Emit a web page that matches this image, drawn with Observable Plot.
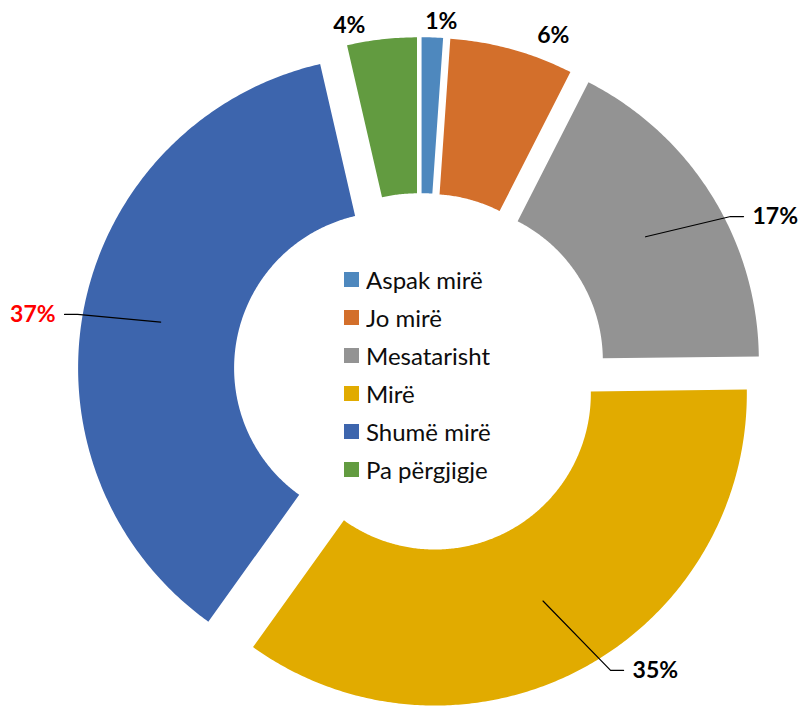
<!DOCTYPE html>
<html>
<head>
<meta charset="utf-8">
<script src="https://cdn.jsdelivr.net/npm/d3@7"></script>
<script src="https://cdn.jsdelivr.net/npm/@observablehq/plot@0.6"></script>
<style>
  body { margin: 0; background: #fff; }
  #wrap { position: relative; width: 802px; height: 706px; overflow: hidden; }
  #wrap svg { display: block; }
  .lg-swatches { position: absolute; left: 344px; top: 260px; margin: 0 !important;
    font-family: Lato, "Open Sans", sans-serif; font-size: 24px; color: #0d0d0d; }
  .lg-swatch { height: 38px; padding-bottom: 0 !important; }
  .lg-swatch > svg { margin-right: 7px !important; }
</style>
</head>
<body>
<div id="wrap"></div>
<script>
// ---- data ----
const categories = ["Aspak mirë", "Jo mirë", "Mesatarisht", "Mirë", "Shumë mirë", "Pa përgjigje"];
const values = [1.1, 6.4, 17.3, 35.1, 36.5, 3.6];
const colors = ["#4E88BE", "#D36F2B", "#939393", "#E1AB00", "#3D65AD", "#629B40"];
const labelColors = ["#000000", "#000000", "#000000", "#000000", "#FF0000", "#000000"];
// label layout (polar: degrees clockwise from top, radius in outer-radius units)
const labelAngles = [3.4, 21.5, 64.2, 145.7, 279.3, -11.6];
const labelRadii = [1.128, 1.162, 1.150, 1.155, 1.156, 1.136];
const hasLeader = [false, false, true, true, true, false];

// ---- layout ----
const W = 802, H = 706, CX = 420, CY = 372.2, R = 312;
const HOLE = 0.5, EXPLODE_X = 31 / R, EXPLODE_Y = 23.5 / R;

const total = d3.sum(values);
let cum = 0;
const slices = categories.map((c, i) => {
  const a0 = cum / total * 2 * Math.PI; cum += values[i];
  const a1 = cum / total * 2 * Math.PI;
  const am = (a0 + a1) / 2;
  return {cat: c, i, a0, a1, am, ox: EXPLODE_X * Math.sin(am), oy: EXPLODE_Y * Math.cos(am)};
});

const slicePts = [];
for (const s of slices) {
  const n = Math.max(2, Math.ceil((s.a1 - s.a0) / (Math.PI / 360)));
  for (let k = 0; k <= n; k++) {
    const a = s.a0 + (s.a1 - s.a0) * k / n;
    slicePts.push({cat: s.cat, x: s.ox + Math.sin(a), y: s.oy + Math.cos(a)});
  }
  for (let k = n; k >= 0; k--) {
    const a = s.a0 + (s.a1 - s.a0) * k / n;
    slicePts.push({cat: s.cat, x: s.ox + HOLE * Math.sin(a), y: s.oy + HOLE * Math.cos(a)});
  }
}

const labels = slices.map((s, i) => {
  const la = labelAngles[i] * Math.PI / 180, lr = labelRadii[i];
  const x = lr * Math.sin(la), y = lr * Math.cos(la);
  const anchor = hasLeader[i] ? (x > 0 ? "start" : "end") : "middle";
  return {text: Math.round(values[i]) + "%", x, y, anchor, color: labelColors[i], s, leader: hasLeader[i]};
});

const leaderPts = [];
for (const l of labels.filter(d => d.leader)) {
  const sgn = l.x > 0 ? 1 : -1;
  const rm = (1 + HOLE) / 2;
  leaderPts.push({k: l.text, x: l.s.ox + rm * Math.sin(l.s.am), y: l.s.oy + rm * Math.cos(l.s.am)});
  leaderPts.push({k: l.text, x: l.x - sgn * 13 / R, y: l.y});
  leaderPts.push({k: l.text, x: l.x, y: l.y});
}

const textMarks = [];
for (const anchor of ["start", "middle", "end"]) {
  for (const col of [...new Set(labelColors)]) {
    const sub = labels.filter(d => d.anchor === anchor && d.color === col);
    if (!sub.length) continue;
    textMarks.push(Plot.text(sub, {
      x: "x", y: "y", text: "text", textAnchor: anchor,
      dx: anchor === "start" ? 9 : anchor === "end" ? -9 : 0,
      fill: col, fontWeight: "bold", fontSize: 23, fontFamily: "Lato, 'Open Sans', sans-serif"
    }));
  }
}

const chart = Plot.plot({
  width: W, height: H, margin: 0,
  x: {domain: [-CX / R, (W - CX) / R], axis: null},
  y: {domain: [-(H - CY) / R, CY / R], axis: null},
  color: {domain: categories, range: colors},
  marks: [
    Plot.line(slicePts, {x: "x", y: "y", z: "cat", fill: "cat", stroke: "none", curve: "linear"}),
    Plot.line(leaderPts, {x: "x", y: "y", z: "k", stroke: "#000", strokeWidth: 1.2}),
    ...textMarks
  ]
});

const wrap = document.getElementById("wrap");
wrap.appendChild(chart);
const legend = chart.legend("color", {columns: 1, swatchSize: 15, className: "lg"});
wrap.appendChild(legend);
</script>
</body>
</html>
